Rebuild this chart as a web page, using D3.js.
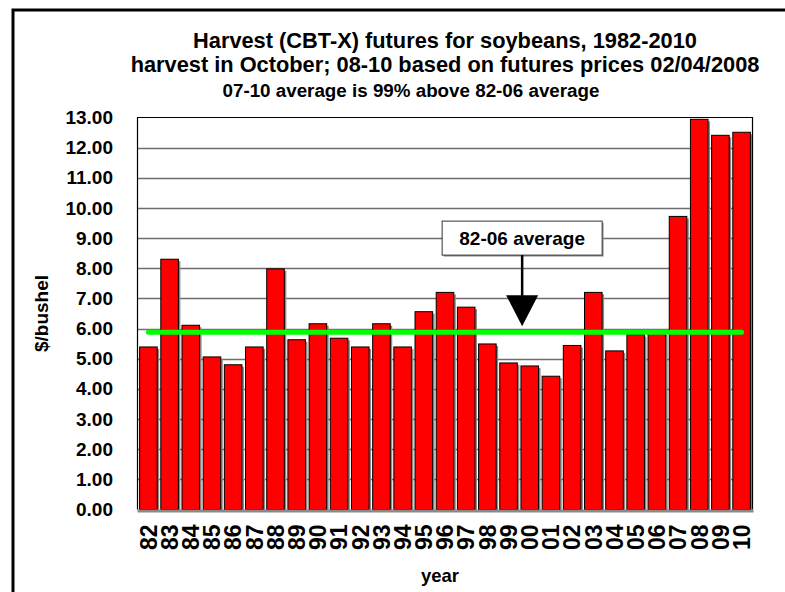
<!DOCTYPE html>
<html>
<head>
<meta charset="utf-8">
<script src="https://cdn.jsdelivr.net/npm/d3@7"></script>
<style>
  body { margin: 0; background: #fff; }
  svg { display: block; font-family: "Liberation Sans", Arial, sans-serif; font-weight: bold; }
</style>
</head>
<body>
<svg id="chart" width="785" height="592"></svg>
<script>
// data
const years = ["82","83","84","85","86","87","88","89","90","91","92","93","94","95","96",
               "97","98","99","00","01","02","03","04","05","06","07","08","09","10"];
const prices = [5.39, 8.30, 6.11, 5.06, 4.80, 5.39, 7.98, 5.63, 6.16, 5.68, 5.39, 6.16, 5.39, 6.56, 7.20,
                6.71, 5.49, 4.86, 4.76, 4.42, 5.44, 7.20, 5.26, 5.80, 5.85, 9.72, 12.94, 12.41, 12.51];
const yTicks = [0,1,2,3,4,5,6,7,8,9,10,11,12,13];
const average = 5.88;
const titleLines = [
  "Harvest (CBT-X) futures for soybeans, 1982-2010",
  "harvest in October; 08-10 based on futures prices 02/04/2008"
];
const subTitle = "07-10 average is 99% above 82-06 average";
const noteText = "82-06 average";

const svg = d3.select("#chart");
const margin = { top: 117.5, right: 32.5, bottom: 82.5, left: 137.5 };
const width = 785, height = 592;
const x0 = margin.left, x1 = width - margin.right;
const yTop = margin.top, yBot = height - margin.bottom;

const x = d3.scaleBand().domain(years).range([x0, x1]).paddingInner(0.17).paddingOuter(0.1);
const y = d3.scaleLinear().domain([0, 13]).range([yBot, yTop]);

// outer frame
svg.append("rect")
  .attr("x", 13).attr("y", 10).attr("width", 800).attr("height", 620)
  .attr("fill", "none").attr("stroke", "#000").attr("stroke-width", 3);

// titles
svg.selectAll(".title").data(titleLines).enter().append("text")
  .attr("class", "title")
  .attr("x", 445).attr("y", (d, i) => 48 + i * 23.5)
  .attr("text-anchor", "middle").attr("font-size", 21.8)
  .text(d => d);
svg.append("text")
  .attr("x", 411).attr("y", 96.5)
  .attr("text-anchor", "middle").attr("font-size", 18.8)
  .text(subTitle);

// plot background + grid
svg.append("rect").attr("x", x0).attr("y", yTop).attr("width", x1 - x0).attr("height", yBot - yTop)
  .attr("fill", "#fff");
svg.append("g").selectAll("line").data(yTicks.filter(t => t > 0 && t < 13)).enter().append("line")
  .attr("x1", x0).attr("x2", x1)
  .attr("y1", d => Math.round(y(d)) + 0.5).attr("y2", d => Math.round(y(d)) + 0.5)
  .attr("stroke", "#6e6e6e").attr("stroke-width", 1.5);

// y axis labels
const yAxis = d3.axisLeft(y).tickValues(yTicks).tickFormat(d3.format(".2f")).tickSize(0).tickPadding(0);
const gy = svg.append("g").attr("transform", `translate(${113},0)`).call(yAxis);
gy.select(".domain").remove();
gy.selectAll("text").attr("font-size", 19).attr("font-family", "Liberation Sans, Arial, sans-serif")
  .attr("font-weight", "bold").attr("fill", "#000");

// bar shadows and bars
svg.append("g").selectAll("rect").data(prices).enter().append("rect")
  .attr("x", (d, i) => x(years[i]) + 2)
  .attr("y", d => y(d) + 2)
  .attr("width", x.bandwidth())
  .attr("height", d => yBot - y(d))
  .attr("fill", "#8a8a8a");
svg.append("g").selectAll("rect").data(prices).enter().append("rect")
  .attr("x", (d, i) => x(years[i]))
  .attr("y", d => y(d))
  .attr("width", x.bandwidth())
  .attr("height", d => yBot - y(d))
  .attr("fill", "#ff0000").attr("stroke", "#000").attr("stroke-width", 1);

// plot border
svg.append("path")
  .attr("d", `M${x0},${yBot}V${yTop}H${x1}V${yBot}`)
  .attr("fill", "none").attr("stroke", "#000").attr("stroke-width", 1.2);
svg.append("line").attr("x1", x0).attr("x2", x1 + 1).attr("y1", yBot + 1.5).attr("y2", yBot + 1.5)
  .attr("stroke", "#8a8a8a").attr("stroke-width", 3);

// average line
const firstC = x(years[0]) + x.bandwidth() / 2;
const lastC = x(years[years.length - 1]) + x.bandwidth() / 2;
svg.append("line")
  .attr("x1", firstC).attr("x2", lastC).attr("y1", y(average)).attr("y2", y(average))
  .attr("stroke", "#00ff00").attr("stroke-width", 5).attr("stroke-linecap", "round");

// x axis labels
const xAxis = d3.axisBottom(x).tickSize(0).tickPadding(0);
const gx = svg.append("g").attr("transform", `translate(0,${yBot + 15})`).call(xAxis);
gx.select(".domain").remove();
gx.selectAll("text")
  .attr("font-size", 23).attr("font-family", "Liberation Sans, Arial, sans-serif")
  .attr("font-weight", "bold").attr("fill", "#000")
  .attr("text-anchor", "end").attr("transform", "rotate(-90)")
  .attr("x", 0).attr("y", 0).attr("dy", "0.36em");

// axis titles
svg.append("text").attr("x", 440).attr("y", 581.5).attr("text-anchor", "middle")
  .attr("font-size", 18.5).text("year");
svg.append("text").attr("transform", `translate(48,${(yTop + yBot) / 2}) rotate(-90)`)
  .attr("text-anchor", "middle").attr("font-size", 19).text("$/bushel");

// annotation: box + arrow pointing to average
const ax = (x("99") + x("00") + x.bandwidth()) / 2 + 3;
const boxW = 160, boxH = 34;
const boxCy = y(9);
svg.append("rect")
  .attr("x", ax - boxW / 2 + 1.5).attr("y", boxCy - boxH / 2 + 1.5).attr("width", boxW).attr("height", boxH)
  .attr("fill", "#9a9a9a");
svg.append("rect")
  .attr("x", ax - boxW / 2).attr("y", boxCy - boxH / 2).attr("width", boxW).attr("height", boxH)
  .attr("fill", "#fff").attr("stroke", "#333").attr("stroke-width", 1);
svg.append("text").attr("x", ax).attr("y", boxCy + 7).attr("text-anchor", "middle")
  .attr("font-size", 19).text(noteText);
const tipY = y(average) - 6;
svg.append("line").attr("x1", ax).attr("x2", ax).attr("y1", boxCy + boxH / 2).attr("y2", tipY - 28)
  .attr("stroke", "#000").attr("stroke-width", 2.5);
svg.append("path")
  .attr("d", `M${ax - 16},${tipY - 31}L${ax + 16},${tipY - 31}L${ax},${tipY}Z`)
  .attr("fill", "#000");
</script>
</body>
</html>
